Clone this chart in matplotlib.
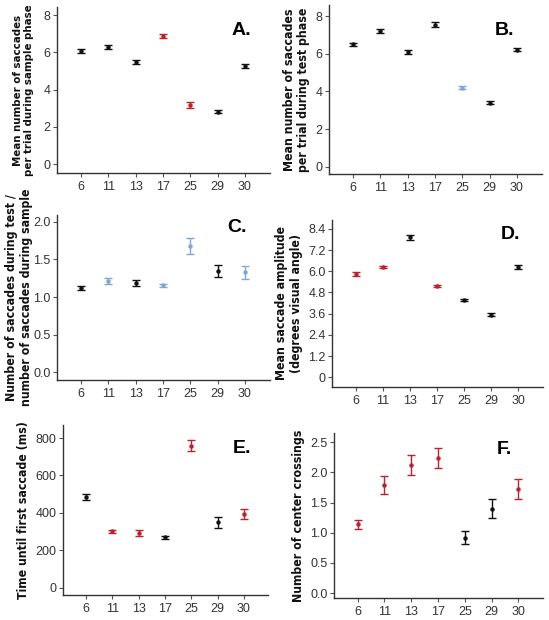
import matplotlib
matplotlib.use("Agg")
import matplotlib.pyplot as plt
import numpy as np

plt.rcParams['font.family'] = ['Liberation Sans', 'DejaVu Sans']

groups = ['6', '11', '13', '17', '25', '29', '30']

BLACK = '#111111'
RED = '#c0202a'
BLUE = '#7fa6d6'

# panel A: saccades during sample phase
a_mean = [6.07, 6.30, 5.47, 6.88, 3.17, 2.81, 5.27]
a_err = [0.11, 0.10, 0.12, 0.10, 0.15, 0.07, 0.12]
a_col = ['k', 'k', 'k', 'r', 'r', 'k', 'k']

# panel B: saccades during test phase
b_mean = [6.50, 7.21, 6.10, 7.56, 4.20, 3.40, 6.23]
b_err = [0.10, 0.12, 0.10, 0.12, 0.08, 0.08, 0.10]
b_col = ['k', 'k', 'k', 'k', 'b', 'k', 'k']

# panel C: ratio test / sample
c_mean = [1.124, 1.22, 1.19, 1.155, 1.68, 1.35, 1.33]
c_err = [0.03, 0.04, 0.04, 0.025, 0.11, 0.08, 0.085]
c_col = ['k', 'b', 'k', 'b', 'b', 'k', 'b']

# panel D: saccade amplitude
d_mean = [5.85, 6.24, 7.91, 5.17, 4.39, 3.54, 6.24]
d_err = [0.10, 0.08, 0.15, 0.08, 0.06, 0.08, 0.10]
d_col = ['r', 'r', 'k', 'r', 'k', 'k', 'k']

# panel E: time until first saccade
e_mean = [486, 302, 293, 268, 759, 350, 395]
e_err = [17, 8, 15, 6, 30, 30, 27]
e_col = ['k', 'r', 'r', 'k', 'r', 'k', 'r']

# panel F: center crossings
f_mean = [1.14, 1.785, 2.12, 2.24, 0.92, 1.40, 1.72]
f_err = [0.077, 0.15, 0.165, 0.17, 0.11, 0.155, 0.165]
f_col = ['r', 'r', 'r', 'r', 'k', 'k', 'r']

cmap = {'k': BLACK, 'r': RED, 'b': BLUE}

W, H = 549, 620
fig = plt.figure(figsize=(W / 100, H / 100), dpi=100)


def panel(px, mean, err, cols, ylim, yticks, yticklabels, ylabel, lpad,
          letter, letter_xy, lsize=8.8):
    l, r, t, b = px
    ax = fig.add_axes([l / W, 1 - b / H, (r - l) / W, (b - t) / H])
    x = np.arange(len(groups))
    for i in range(len(groups)):
        ax.errorbar(x[i], mean[i], yerr=err[i], fmt='o', ms=2.2,
                    color=cmap[cols[i]], ecolor=cmap[cols[i]],
                    elinewidth=1.0, capsize=2.8, capthick=1.0)
    ax.set_xlim(-0.88, 6.92)
    ax.set_ylim(*ylim)
    ax.set_xticks(x)
    ax.set_xticklabels(groups)
    ax.set_yticks(yticks)
    ax.set_yticklabels(yticklabels)
    for s in ['top', 'right']:
        ax.spines[s].set_visible(False)
    for s in ['left', 'bottom']:
        ax.spines[s].set_color('#333333')
        ax.spines[s].set_linewidth(1.0)
    ax.tick_params(axis='both', colors='#555555', labelcolor='#333333',
                   labelsize=9, length=3, width=0.8, pad=1.5)
    ax.tick_params(axis='x', pad=3)
    ax.set_ylabel(ylabel, fontsize=lsize, fontweight='bold', linespacing=1.15,
                  labelpad=lpad, color='#111111', family=['DejaVu Sans'],
                  fontstretch='condensed')
    ax.text(letter_xy[0], letter_xy[1], letter, transform=ax.transAxes,
            fontsize=14, fontweight='bold',
            ha='left', va='center')
    return ax


panel((57, 270, 7, 173), a_mean, a_err, a_col, (-0.48, 8.43),
      [0, 2, 4, 6, 8], ['0', '2', '4', '6', '8'],
      'Mean number of saccades\nper trial during sample phase', 7,
      'A.', (0.82, 0.86), lsize=8.2)

panel((329, 542, 5, 174), b_mean, b_err, b_col, (-0.39, 8.6),
      [0, 2, 4, 6, 8], ['0', '2', '4', '6', '8'],
      'Mean number of saccades\nper trial during test phase', 4,
      'B.', (0.78, 0.85))

panel((57, 270, 215, 380), c_mean, c_err, c_col, (-0.10, 2.09),
      [0.0, 0.5, 1.0, 1.5, 2.0], ['0.0', '0.5', '1.0', '1.5', '2.0'],
      'Number of saccades during test /\nnumber of saccades during sample', 0.5,
      'C.', (0.80, 0.925))

panel((332, 543, 220, 387), d_mean, d_err, d_col, (-0.55, 8.9),
      [0, 1.2, 2.4, 3.6, 4.8, 6.0, 7.2, 8.4],
      ['0', '1.2', '2.4', '3.6', '4.8', '6.0', '7.2', '8.4'],
      'Mean saccade amplitude\n(degrees visual angle)', 4,
      'D.', (0.80, 0.915))

panel((63, 268, 425, 595), e_mean, e_err, e_col, (-40, 870),
      [0, 200, 400, 600, 800], ['0', '200', '400', '600', '800'],
      'Time until first saccade (ms)', 4,
      'E.', (0.83, 0.86))

panel((334, 543, 433, 598), f_mean, f_err, f_col, (-0.08, 2.65),
      [0.0, 0.5, 1.0, 1.5, 2.0, 2.5], ['0.0', '0.5', '1.0', '1.5', '2.0', '2.5'],
      'Number of center crossings', 4,
      'F.', (0.78, 0.90))

fig.savefig('out.png', dpi=100)
